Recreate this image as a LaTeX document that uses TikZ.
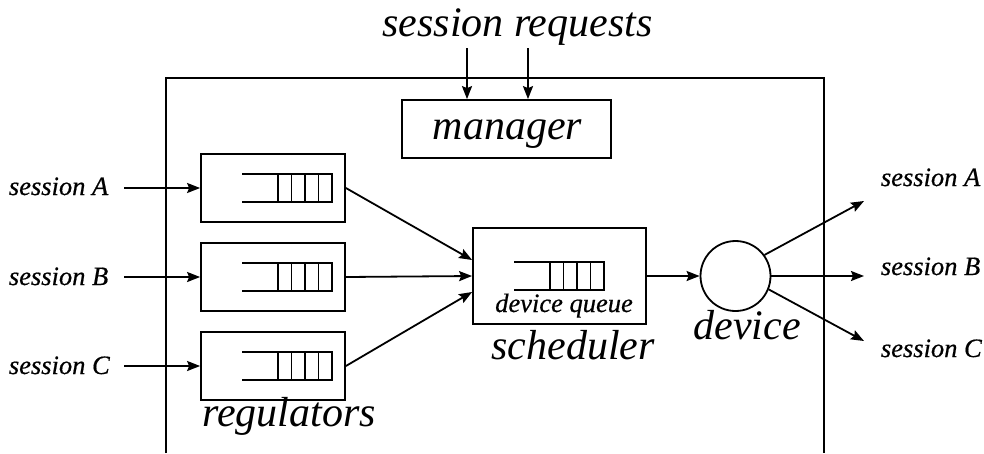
\documentclass[tikz,border=0pt]{standalone}
\usepackage{fontspec}
\setmainfont{Liberation Serif}
\newfontfamily\smallfam{Liberation Serif}[FakeBold=0.6]
\usetikzlibrary{arrows.meta}
\begin{document}
\begin{tikzpicture}[x=1pt,y=-1pt, line width=1.8pt,
  box/.style={draw, rectangle, inner sep=0pt},
  big/.style={font=\fontsize{42}{48}\selectfont\itshape, inner sep=0pt, anchor=base},
  small/.style={font=\smallfam\fontsize{26.5}{30}\selectfont\itshape, inner sep=0pt, anchor=base},
  arr/.style={-{Stealth[length=13pt,width=10pt,inset=2pt]}},
  queuepic/.pic={
    \draw (-45,-14) -- (45,-14) -- (45,14) -- (-45,14);
    \foreach \x in {-9,4.5,18,31.5} \draw (\x,-14) -- (\x,14);
  }
]
\useasboundingbox (0,0) rectangle (984,453);
% outer system box (open at the bottom, cut by the picture edge)
\draw (166,453) -- (166,78) -- (824,78) -- (824,453);

% manager
\node[box, minimum width=209pt, minimum height=58pt] (mgr) at (506.5,129) {};
\node[big] (mgrtxt) at (507.5,139) {manager};
\node[big] (reqtxt) at (517.5,36) {session requests};
\coordinate (r1) at (467,48);
\coordinate (r2) at (528,48);
\draw[arr] (r1) -- (r1 |- mgr.north);
\draw[arr] (r2) -- (r2 |- mgr.north);

% regulators
\node[box, minimum width=144pt, minimum height=68pt] (regA) at (273,188) {};
\node[box, minimum width=144pt, minimum height=68pt] (regB) at (273,277) {};
\node[box, minimum width=144pt, minimum height=68pt] (regC) at (273,366) {};
\pic at (287,188) {queuepic};
\pic at (287,277) {queuepic};
\pic at (287,366) {queuepic};
\node[big] (regtxt) at (289,426) {regulators};

% scheduler
\node[box, minimum width=173pt, minimum height=96pt] (sched) at (559.5,276) {};
\pic at (559,276) {queuepic};
\node[small] (dqtxt) at (564,312) {device queue};
\node[big] (schedtxt) at (573,359) {scheduler};

% device
\node[draw, circle, inner sep=0pt, minimum size=70pt] (dev) at (735.5,276) {};
\node[big] (devtxt) at (747,339) {device};

% inputs
\node[small, anchor=base west] (lA) at (8,195) {session A};
\node[small, anchor=base west] (lB) at (8,285) {session B};
\node[small, anchor=base west] (lC) at (8,374) {session C};
\coordinate (inA) at (124,188);
\coordinate (inB) at (124,277);
\coordinate (inC) at (124,366);
\draw[arr] (inA) -- (regA.west);
\draw[arr] (inB) -- (regB.west);
\draw[arr] (inC) -- (regC.west);

% regulators -> scheduler
\draw[arr] (regA.east) -- ([yshift=16pt]sched.west);
\draw[arr] (regB.east) -- (sched.west);
\draw[arr] (regC.east) -- ([yshift=-16pt]sched.west);

% scheduler -> device
\draw[arr] (sched.east) -- (dev.west);

% outputs
\coordinate (oA) at (864,201);
\coordinate (oB) at (864,276);
\coordinate (oC) at (864,341);
\draw[arr] (dev.36) -- (oA);
\draw[arr] (dev.east) -- (oB);
\draw[arr] (dev.-22) -- (oC);
\node[small, anchor=base west] (rA) at (880,186) {session A};
\node[small, anchor=base west] (rB) at (880,275) {session B};
\node[small, anchor=base west] (rC) at (880,357) {session C};
\end{tikzpicture}
\end{document}
